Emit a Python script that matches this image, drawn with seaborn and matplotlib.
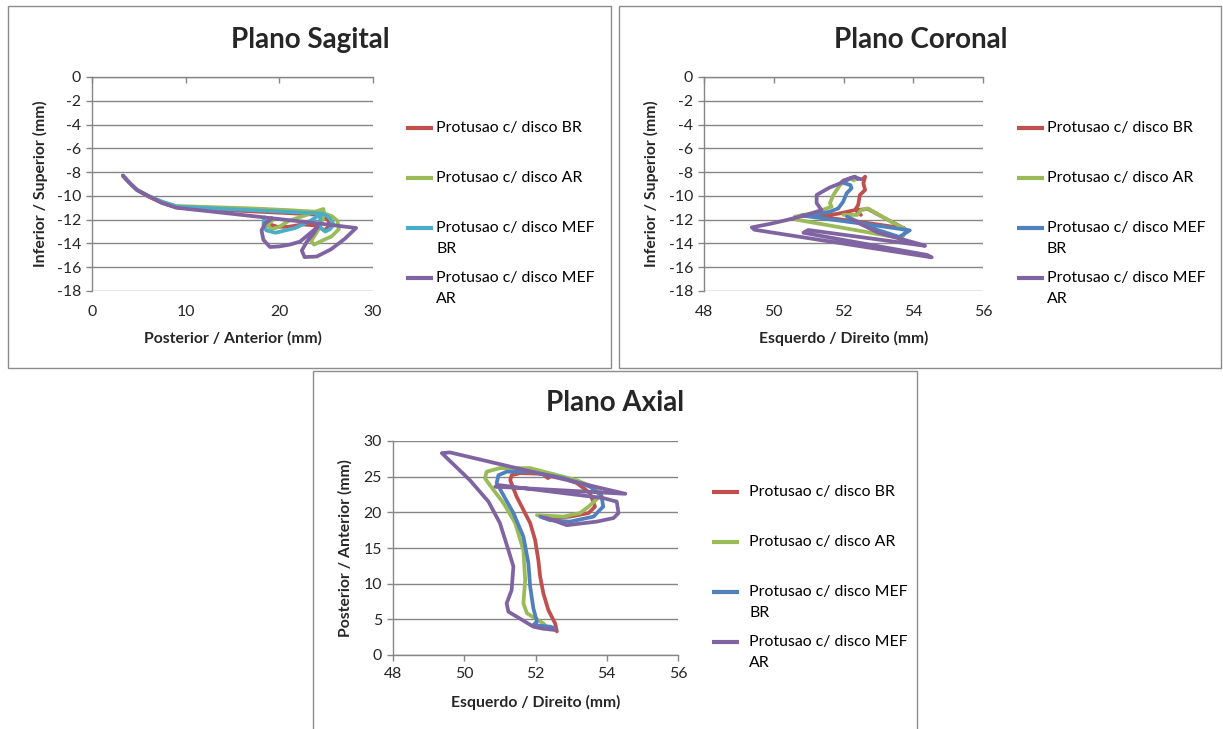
import textwrap
import numpy as np
import pandas as pd
import matplotlib
matplotlib.use("Agg")
import matplotlib.pyplot as plt
from matplotlib.lines import Line2D
from matplotlib.patches import Rectangle
import seaborn as sns

series = ["Protusao c/ disco BR", "Protusao c/ disco AR",
          "Protusao c/ disco MEF BR", "Protusao c/ disco MEF AR"]

# ---- Plano Sagital: Posterior/Anterior (x) vs Inferior/Superior (y), mm ----
sag_br_x = [3.3, 4.0, 4.8, 6.0, 7.5, 9.0, 13, 17, 21, 24.5, 25.2, 25.4, 24.8, 24.0, 22.5, 21.0, 19.8, 19.0, 18.6, 19.3]
sag_br_y = [-8.3, -8.9, -9.5, -10.05, -10.6, -10.95, -11.15, -11.3, -11.45, -11.6, -12.0, -12.5, -12.9, -12.5, -12.4, -12.6, -12.6, -12.4, -12.2, -12.0]
sag_ar_x = [3.3, 4.0, 4.8, 6.0, 7.5, 9.0, 13, 17, 21, 24.3, 25.6, 26.2, 26.35, 25.6, 24.75, 23.7, 23.4, 24.2, 24.8, 24.7, 22.9, 21.0, 20.0, 19.2, 18.7, 19.2]
sag_ar_y = [-8.3, -8.9, -9.5, -10.0, -10.5, -10.85, -10.95, -11.05, -11.2, -11.35, -11.7, -12.1, -12.8, -13.4, -13.7, -14.1, -13.8, -12.8, -11.5, -11.1, -11.6, -12.1, -12.6, -12.8, -12.5, -12.1]
sag_mbr_x = [3.3, 4.0, 4.8, 6.0, 7.5, 9.0, 13, 17, 21, 24.7, 25.3, 25.8, 25.4, 24.9, 24.3, 24.4, 23.3, 21.7, 19.6, 18.6, 18.3, 18.4]
sag_mbr_y = [-8.3, -8.9, -9.5, -10.0, -10.5, -10.9, -11.05, -11.2, -11.35, -11.5, -11.8, -12.4, -12.8, -13.0, -12.6, -11.55, -12.1, -12.7, -13.1, -12.9, -12.4, -11.8]
sag_mar_x = [3.3, 4.0, 4.8, 6.0, 7.5, 9.0, 12, 16, 20, 24, 28.2, 27.0, 25.5, 24.0, 22.7, 22.4, 22.9, 23.6, 24.1, 23.2, 22.2, 21.1, 20.0, 19.0, 18.3, 18.1, 18.5, 19.2]
sag_mar_y = [-8.3, -8.9, -9.5, -10.0, -10.6, -11.0, -11.25, -11.6, -11.95, -12.3, -12.7, -13.6, -14.5, -15.1, -15.15, -14.6, -13.9, -13.2, -12.6, -13.2, -13.85, -14.1, -14.25, -14.3, -13.7, -12.9, -12.3, -11.9]

# ---- Plano Coronal: Esquerdo/Direito (x) vs Inferior/Superior (y), mm ----
cor_br_x = [52.55, 52.62, 52.57, 52.62, 52.47, 52.42, 52.33, 51.9, 51.3, 52.5, 53.43, 53.75, 53.2, 52.7, 52.35, 52.5]
cor_br_y = [-8.6, -8.38, -8.94, -9.5, -9.92, -10.77, -11.19, -11.47, -11.75, -12.2, -12.6, -12.75, -11.9, -11.1, -11.2, -11.6]
cor_ar_x = [52.3, 52.19, 51.9, 51.71, 51.61, 51.66, 51.2, 50.6, 50.65, 52.2, 53.67, 53.81, 53.2, 52.7, 52.5, 52.4, 52.0]
cor_ar_y = [-8.7, -8.52, -9.08, -9.92, -10.62, -10.9, -11.4, -11.75, -12.0, -12.8, -13.57, -12.87, -11.9, -11.05, -11.2, -11.6, -11.6]
cor_mbr_x = [52.4, 52.33, 52.09, 52.0, 52.2, 52.23, 52.09, 51.99, 51.85, 51.61, 51.23, 50.8, 53.2, 53.9, 53.6, 52.8, 52.1]
cor_mbr_y = [-8.6, -8.38, -8.66, -8.9, -9.1, -9.36, -9.78, -10.49, -11.05, -11.33, -11.55, -11.65, -12.6, -12.9, -13.45, -12.7, -11.75]
cor_mar_x = [52.5, 52.3, 52.0, 51.9, 51.6, 51.23, 51.23, 51.3, 51.37, 50.94, 50.37, 49.9, 49.37, 49.45, 54.53, 54.4, 50.85, 50.99, 54.34, 54.24, 53.0, 52.2]
cor_mar_y = [-8.6, -8.4, -8.7, -8.95, -9.3, -9.92, -10.6, -10.9, -11.2, -11.6, -12.03, -12.35, -12.65, -12.85, -15.17, -14.97, -13.1, -12.87, -14.2, -14.1, -13.1, -11.95]

# ---- Plano Axial: Esquerdo/Direito (x) vs Posterior/Anterior (y), mm ----
ax_br_x = [52.6, 52.55, 52.36, 52.22, 52.13, 52.08, 51.99, 51.85, 51.47, 51.29, 51.33, 51.57, 52.2, 52.35, 52.5, 53.16, 53.53, 53.67, 53.49, 52.97, 52.41]
ax_br_y = [3.3, 4.44, 6.3, 8.65, 11.0, 13.3, 16.1, 18.5, 22.2, 24.5, 25.2, 25.5, 25.4, 24.8, 25.3, 24.1, 22.7, 20.8, 19.9, 19.4, 19.2]
ax_ar_x = [52.3, 52.22, 51.76, 51.66, 51.71, 51.66, 51.43, 51.1, 50.72, 50.58, 50.63, 51.0, 51.85, 53.16, 53.81, 53.75, 53.49, 53.25, 52.78, 52.04]
ax_ar_y = [4.0, 4.44, 5.85, 7.25, 10.5, 14.7, 18.5, 21.3, 23.8, 24.8, 25.7, 26.2, 26.2, 24.5, 23.1, 22.0, 20.8, 19.9, 19.4, 19.6]
ax_mbr_x = [52.5, 52.41, 51.94, 52.04, 51.94, 51.85, 51.8, 51.66, 51.38, 51.1, 50.91, 50.96, 51.19, 51.85, 52.78, 53.53, 53.85, 53.9, 53.8, 53.63, 52.97, 52.41, 52.13]
ax_mbr_y = [3.8, 3.97, 4.2, 4.67, 6.55, 9.58, 12.9, 16.6, 19.9, 22.4, 24.1, 25.2, 25.7, 25.7, 24.8, 23.6, 22.4, 20.8, 20.3, 19.4, 18.7, 18.9, 19.4]
ax_mar_x = [52.55, 52.2, 51.94, 51.24, 51.19, 51.33, 51.38, 51.24, 51.0, 50.68, 50.16, 49.37, 49.6, 54.52, 50.87, 51.0, 53.9, 54.28, 54.33, 54.19, 53.72, 52.88, 52.32, 52.2]
ax_mar_y = [3.5, 3.7, 3.97, 6.07, 7.24, 9.1, 12.4, 14.7, 18.5, 21.5, 24.5, 28.3, 28.4, 22.6, 23.6, 23.8, 22.0, 21.5, 19.9, 19.2, 18.7, 18.2, 19.2, 19.3]

sag_yticks = list(range(-18, 1, 2))
sag_xticks = [0, 10, 20, 30]
cor_xticks = [48, 50, 52, 54, 56]
axi_yticks = list(range(0, 31, 5))

RED, GREEN, BLUE, PURPLE, CYAN = "#C0504D", "#9BBB59", "#4F81BD", "#8064A2", "#4BACC6"

sns.set_style("white")
plt.rcParams["font.family"] = ["Lato", "DejaVu Sans"]

W, H = 1223, 729
fig = plt.figure(figsize=(W / 100, H / 100), dpi=100)

TICK_FS = 11.4
LABEL_FS = 11.3
TITLE_FS = 20


def px_rect(x0, y0, x1, y1):
    return [x0 / W, 1 - y1 / H, (x1 - x0) / W, (y1 - y0) / H]


def frame(xs, ys):
    parts = []
    for name, x, y in zip(series, xs, ys):
        parts.append(pd.DataFrame({"x": x, "y": y, "serie": name}))
    return pd.concat(parts, ignore_index=True)


GRID = "#868686"


def style_axes(ax, xticks, yticks, xlabel, ylabel, axis_at_top):
    ax.set_xlim(xticks[0], xticks[-1])
    ax.set_ylim(yticks[0], yticks[-1])
    ax.set_xticks(xticks)
    ax.set_yticks(yticks)
    ax.set_yticklabels([str(t) for t in yticks])
    ax.yaxis.grid(True, color=GRID, linewidth=1.0)
    ax.xaxis.grid(False)
    ax.set_axisbelow(True)
    ax.spines["right"].set_visible(False)
    ax.spines["left"].set_color(GRID)
    ax.spines["left"].set_linewidth(1.0)
    if axis_at_top:
        ax.spines["bottom"].set_visible(False)
        ax.spines["top"].set_color(GRID)
        ax.spines["top"].set_linewidth(1.0)
        ax.tick_params(axis="x", bottom=False, top=True, labelbottom=True, labeltop=False,
                       direction="in", length=4, width=1, color=GRID, pad=10,
                       labelsize=TICK_FS)
    else:
        ax.spines["top"].set_visible(False)
        ax.spines["bottom"].set_color(GRID)
        ax.spines["bottom"].set_linewidth(1.0)
        ax.tick_params(axis="x", bottom=True, top=False, direction="out", length=4,
                       width=1, color=GRID, pad=5, labelsize=TICK_FS)
    ax.tick_params(axis="y", left=True, direction="out", length=4, width=1, color=GRID,
                   pad=4, labelsize=TICK_FS)
    ax.set_xlabel(xlabel, fontsize=LABEL_FS, fontweight="bold")
    ax.set_ylabel(ylabel, fontsize=LABEL_FS, fontweight="bold")
    ax.xaxis.set_label_coords(0.5, -0.22)
    ax.xaxis.label.set_va("center")
    ax.yaxis.label.set_va("center")


def draw_legend(x_handle, x_text, y_first, colors):
    y = y_first
    for name, c in zip(series, colors):
        fig.add_artist(Line2D([x_handle / W, (x_handle + 27) / W], [1 - y / H, 1 - y / H],
                              color=c, linewidth=3, solid_capstyle="butt",
                              transform=fig.transFigure))
        for i, line in enumerate(textwrap.wrap(name, 21)):
            fig.text(x_text / W, 1 - (y + 21 * i) / H, line, fontsize=TICK_FS,
                     ha="left", va="center", color="#000000")
        y += 50


def border(x0, y0, x1, y1):
    fig.add_artist(Rectangle((x0 / W, 1 - y1 / H), (x1 - x0) / W, (y1 - y0) / H,
                             fill=False, edgecolor="#8C8C8C", linewidth=1.0,
                             transform=fig.transFigure))


line_kw = dict(sort=False, estimator=None, legend=False, linewidth=2.7,
               solid_joinstyle="round", solid_capstyle="round")

# Sagittal plane
border(8, 6, 611, 368)
ax1 = fig.add_axes(px_rect(92, 77, 373, 291))
df1 = frame([sag_br_x, sag_ar_x, sag_mbr_x, sag_mar_x], [sag_br_y, sag_ar_y, sag_mbr_y, sag_mar_y])
sns.lineplot(data=df1, x="x", y="y", hue="serie", hue_order=series,
             palette=[RED, GREEN, CYAN, PURPLE], ax=ax1, **line_kw)
style_axes(ax1, sag_xticks, sag_yticks, "Posterior / Anterior (mm)",
           "Inferior / Superior (mm)", True)
ax1.yaxis.set_label_coords(-0.185, 0.5)
fig.text(310 / W, 1 - 40 / H, "Plano Sagital", fontsize=TITLE_FS, fontweight="bold",
         ha="center", va="center")
draw_legend(406, 436, 128, [RED, GREEN, CYAN, PURPLE])

# Coronal plane
border(619, 6, 1221, 368)
ax2 = fig.add_axes(px_rect(704, 77, 983, 291))
df2 = frame([cor_br_x, cor_ar_x, cor_mbr_x, cor_mar_x], [cor_br_y, cor_ar_y, cor_mbr_y, cor_mar_y])
sns.lineplot(data=df2, x="x", y="y", hue="serie", hue_order=series,
             palette=[RED, GREEN, BLUE, PURPLE], ax=ax2, **line_kw)
style_axes(ax2, cor_xticks, sag_yticks, "Esquerdo / Direito (mm)",
           "Inferior / Superior (mm)", True)
ax2.yaxis.set_label_coords(-0.19, 0.5)
fig.text(921 / W, 1 - 40 / H, "Plano Coronal", fontsize=TITLE_FS, fontweight="bold",
         ha="center", va="center")
draw_legend(1017, 1047, 128, [RED, GREEN, BLUE, PURPLE])

# Axial plane
border(313, 371, 917, 740)
ax3 = fig.add_axes(px_rect(393, 441, 678, 655))
df3 = frame([ax_br_x, ax_ar_x, ax_mbr_x, ax_mar_x], [ax_br_y, ax_ar_y, ax_mbr_y, ax_mar_y])
sns.lineplot(data=df3, x="x", y="y", hue="serie", hue_order=series,
             palette=[RED, GREEN, BLUE, PURPLE], ax=ax3, **line_kw)
style_axes(ax3, cor_xticks, axi_yticks, "Esquerdo / Direito (mm)",
           "Posterior / Anterior (mm)", False)
ax3.yaxis.set_label_coords(-0.168, 0.5)
fig.text(615 / W, 1 - 403 / H, "Plano Axial", fontsize=TITLE_FS, fontweight="bold",
         ha="center", va="center")
draw_legend(712, 749, 492, [RED, GREEN, BLUE, PURPLE])

fig.savefig("out.png", dpi=100, facecolor="white")
